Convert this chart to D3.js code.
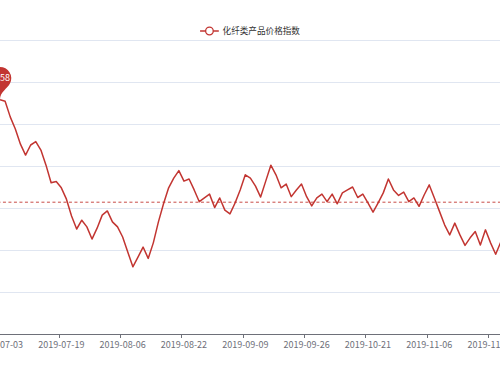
<!DOCTYPE html>
<html>
<head>
<meta charset="utf-8">
<script src="https://cdn.jsdelivr.net/npm/d3@7"></script>
<style>
html,body{margin:0;padding:0;background:#fff;overflow:hidden}
svg{display:block}
</style>
</head>
<body>
<svg id="chart" width="500" height="375"></svg>
<script>
const seriesName = "化纤类产品价格指数";

const dates = [
"2019-07-03","2019-07-04","2019-07-05","2019-07-08","2019-07-09","2019-07-10","2019-07-11","2019-07-12","2019-07-15","2019-07-16","2019-07-17","2019-07-18",
"2019-07-19","2019-07-22","2019-07-23","2019-07-24","2019-07-25","2019-07-26","2019-07-29","2019-07-30","2019-07-31","2019-08-01","2019-08-02","2019-08-05",
"2019-08-06","2019-08-07","2019-08-08","2019-08-09","2019-08-12","2019-08-13","2019-08-14","2019-08-15","2019-08-16","2019-08-19","2019-08-20","2019-08-21",
"2019-08-22","2019-08-23","2019-08-26","2019-08-27","2019-08-28","2019-08-29","2019-08-30","2019-09-02","2019-09-03","2019-09-04","2019-09-05","2019-09-06",
"2019-09-09","2019-09-10","2019-09-11","2019-09-12","2019-09-16","2019-09-17","2019-09-18","2019-09-19","2019-09-20","2019-09-23","2019-09-24","2019-09-25",
"2019-09-26","2019-09-27","2019-09-30","2019-10-08","2019-10-09","2019-10-10","2019-10-11","2019-10-14","2019-10-15","2019-10-16","2019-10-17","2019-10-18",
"2019-10-21","2019-10-22","2019-10-23","2019-10-24","2019-10-25","2019-10-28","2019-10-29","2019-10-30","2019-10-31","2019-11-01","2019-11-04","2019-11-05",
"2019-11-06","2019-11-07","2019-11-08","2019-11-11","2019-11-12","2019-11-13","2019-11-14","2019-11-15","2019-11-18","2019-11-19","2019-11-20","2019-11-21",
"2019-11-22","2019-11-25","2019-11-26","2019-11-27","2019-11-28","2019-11-29","2019-12-02","2019-12-03"
];

const values = [
1258,1254,1217,1188,1152,1126,1150,1158,1138,1102,1060,1063,
1048,1021,981,950,971,955,926,952,983,993,967,955,
931,895,860,883,907,880,917,967,1010,1048,1071,1089,
1064,1069,1043,1015,1024,1033,1001,1024,995,986,1012,1043,
1079,1071,1052,1026,1064,1102,1079,1048,1057,1027,1043,1057,
1027,1005,1024,1033,1015,1033,1010,1036,1043,1050,1025,1033,
1012,990,1012,1036,1069,1043,1030,1038,1015,1024,1004,1031,
1055,1024,992,960,936,964,936,911,929,944,912,948,
917,890,919,900,910,895,905,914
];

const yTicks = [700,800,900,1000,1100,1200,1300,1400];
const xLabelInterval = 12;

// layout
const plot = {left:-2.55, right:528.9, top:40, bottom:334};
const FONT = '"Microsoft YaHei","Noto Sans CJK SC",sans-serif';
const COLOR = '#c23531';
const AXIS = '#6E7079';
const SPLIT = '#E0E6F1';

const svg = d3.select('#chart');

const x = d3.scaleBand().domain(dates).range([plot.left, plot.right]).padding(0);
const bw = x.bandwidth();
const cx = d => x(d) + bw / 2;
const y = d3.scaleLinear().domain([yTicks[0], yTicks[yTicks.length-1]]).range([plot.bottom, plot.top]);

// split lines
svg.append('g').selectAll('line').data(yTicks.slice(1)).join('line')
  .attr('x1', plot.left).attr('x2', plot.right)
  .attr('y1', d => Math.round(y(d)) + 0.5).attr('y2', d => Math.round(y(d)) + 0.5)
  .attr('stroke', SPLIT).attr('stroke-width', 1);

// x axis line
svg.append('line')
  .attr('x1', plot.left).attr('x2', plot.right)
  .attr('y1', plot.bottom + 0.5).attr('y2', plot.bottom + 0.5)
  .attr('stroke', AXIS).attr('stroke-width', 1);

const labeled = dates.filter((d, i) => i % xLabelInterval === 0);
svg.append('g').selectAll('line').data(labeled).join('line')
  .attr('x1', d => Math.round(x(d)) + 0.5).attr('x2', d => Math.round(x(d)) + 0.5)
  .attr('y1', plot.bottom).attr('y2', plot.bottom + 4)
  .attr('stroke', AXIS).attr('stroke-width', 1);

svg.append('g').selectAll('text').data(labeled).join('text')
  .attr('x', d => cx(d)).attr('y', plot.bottom + 14)
  .attr('text-anchor', 'middle').attr('font-family', FONT).attr('font-size', 9)
  .attr('fill', AXIS).text(d => d);

// average mark line
const avg = d3.mean(values);
svg.append('line')
  .attr('x1', plot.left).attr('x2', plot.right)
  .attr('y1', y(avg)).attr('y2', y(avg))
  .attr('stroke', COLOR).attr('stroke-width', 0.9)
  .attr('stroke-dasharray', '3,2.5');
svg.append('circle').attr('cx', plot.left).attr('cy', y(avg)).attr('r', 2.5).attr('fill', COLOR);

// series line
const line = d3.line().x((d, i) => cx(dates[i])).y(d => y(d));
svg.append('path').datum(values)
  .attr('d', line).attr('fill', 'none')
  .attr('stroke', COLOR).attr('stroke-width', 1.5).attr('stroke-linejoin', 'round');

// max mark point (pin)
const mi = d3.maxIndex(values);
function pinPath(px, py, size) {
  const w = size / 5 * 3, h = Math.max(w, size), r = w / 2;
  const dy = r * r / (h - r);
  const ccy = py - h + r + dy;
  const angle = Math.asin(dy / r);
  const dx = Math.cos(angle) * r;
  const tanX = Math.sin(angle), tanY = Math.cos(angle);
  const cp = r * 0.6, cp2 = r * 0.7;
  const p = d3.path();
  p.moveTo(px - dx, ccy + dy);
  p.arc(px, ccy, r, Math.PI - angle, Math.PI * 2 + angle);
  p.bezierCurveTo(px + dx - tanX * cp, ccy + dy + tanY * cp, px, py - cp2, px, py);
  p.bezierCurveTo(px, py - cp2, px - dx + tanX * cp, ccy + dy + tanY * cp, px - dx, ccy + dy);
  p.closePath();
  return {d: p.toString(), cy: ccy};
}
const pin = pinPath(cx(dates[mi]), y(values[mi]), 37.5);
svg.append('path').attr('d', pin.d).attr('fill', COLOR);
svg.append('text')
  .attr('x', cx(dates[mi])).attr('y', pin.cy).attr('dy', '0.35em')
  .attr('text-anchor', 'middle').attr('font-family', FONT).attr('font-size', 9)
  .attr('fill', '#fff').attr('stroke', COLOR).attr('stroke-width', 1.5)
  .attr('paint-order', 'stroke').text(values[mi]);

// legend
const lg = svg.append('g');
const lt = lg.append('text').attr('font-family', FONT).attr('font-size', 8.6)
  .attr('fill', '#333').attr('y', 31).attr('dy', '0.35em').text(seriesName);
const tw = lt.node().getComputedTextLength();
const iconW = 18.75, gap = 3.75;
const lx = 250 - (iconW + gap + tw) / 2;
lt.attr('x', lx + iconW + gap);
lg.append('line').attr('x1', lx).attr('x2', lx + iconW).attr('y1', 31).attr('y2', 31)
  .attr('stroke', COLOR).attr('stroke-width', 1.5);
lg.append('circle').attr('cx', lx + iconW / 2).attr('cy', 31).attr('r', 3.8)
  .attr('fill', '#fff').attr('stroke', COLOR).attr('stroke-width', 1.3);
</script>
</body>
</html>
